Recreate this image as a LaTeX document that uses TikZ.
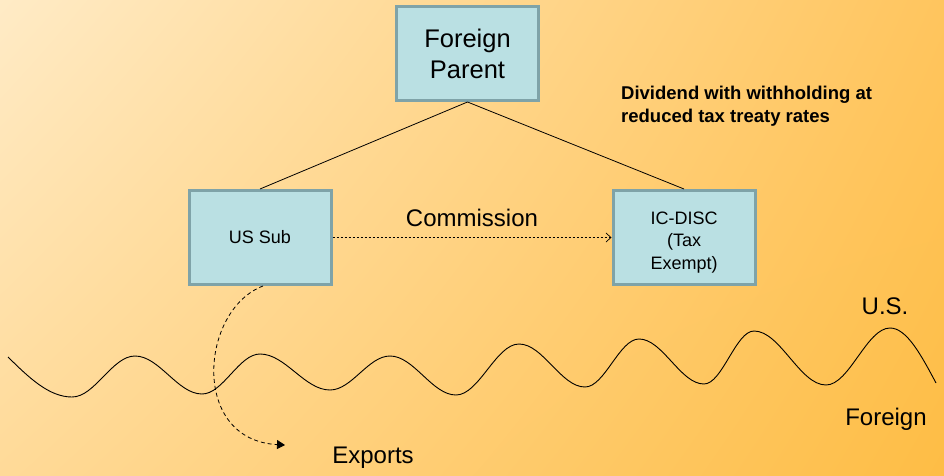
\documentclass[tikz,border=0pt]{standalone}
\usepackage{fontspec}
\setmainfont{Liberation Sans}
\usetikzlibrary{arrows.meta,shadings}
\definecolor{bgTL}{HTML}{FFEBC6}
\definecolor{bgTR}{HTML}{FFC55E}
\definecolor{bgBL}{HTML}{FFDA98}
\definecolor{bgBR}{HTML}{FEBD45}
\definecolor{boxfill}{HTML}{BAE0E3}
\definecolor{boxline}{HTML}{7FA3A8}
\tikzset{
  entity/.style={draw=boxline, fill=boxfill, line width=3pt, minimum width=142pt, minimum height=94pt, inner sep=0pt, align=center, font=\fontsize{18}{22}\selectfont},
  boxtext/.style={inner sep=0pt, align=center, font=\fontsize{18}{22.5}\selectfont},
  lbl/.style={inner sep=0pt, font=\fontsize{24}{29}\selectfont},
  link/.style={line width=0.8pt},
  flow/.style={line width=0.7pt, dash pattern=on 2.5pt off 1.5pt, -{Straight Barb[length=5pt,width=9pt]}},
  exportflow/.style={line width=0.8pt, dash pattern=on 4pt off 3pt, -{Triangle[length=8pt,width=9pt]}},
  wave/.style={line width=0.9pt}
}
\begin{document}
\begin{tikzpicture}[x=1pt,y=-1pt]
\useasboundingbox (0,0) rectangle (944,476);
\shade[upper left=bgTL, upper right=bgTR, lower left=bgBL, lower right=bgBR] (0,0) rectangle (944,476);

\node[entity, font=\fontsize{25.5}{31}\selectfont] (parent) at (467.5,53.5) {Foreign\\Parent};
\node[entity] (ussub) at (260,237.5) {US Sub};
\node[entity] (icdisc) at (684,237.5) {};
\node[boxtext] (icdisctext) at (684,242.5) {IC-DISC\\(Tax\\Exempt)};

\draw[link] (parent.south) -- (ussub.north);
\draw[link] (parent.south) -- (icdisc.north);
\draw[flow] (ussub.east) -- (icdisc.west);

\node[lbl] (commission) at (472,218) {Commission};
\node[inner sep=0pt, anchor=west, align=left, font=\bfseries\fontsize{18.5}{23}\selectfont] (dividend) at (621,106) {Dividend with withholding at\\reduced tax treaty rates};

\node[lbl] (us) at (885,306) {U.S.};
\node[lbl] (foreign) at (886,419) {Foreign};
\node[lbl] (exports) at (373,458) {Exports};

\coordinate (exptip) at (285,445);
\draw[exportflow] ([xshift=3pt]ussub.south) .. controls (200,310) and (190,440) .. (exptip);

\draw[wave] (8,357) sin (72,397)
  cos (103.5,376.5) sin (135,356)
  cos (168.5,375) sin (202,394)
  cos (231,374) sin (260,354)
  cos (295,372) sin (330,390)
  cos (360,373) sin (390,356)
  cos (423,375.5) sin (456,395)
  cos (487.5,369.5) sin (519,344)
  cos (552,365.5) sin (585,387)
  cos (612,363) sin (639,339)
  cos (671.5,361.5) sin (704,384)
  cos (729,357.5) sin (754,331)
  cos (790,358) sin (826,385)
  cos (858,356.5) sin (890,328)
  cos (936,383);
\end{tikzpicture}
\end{document}
